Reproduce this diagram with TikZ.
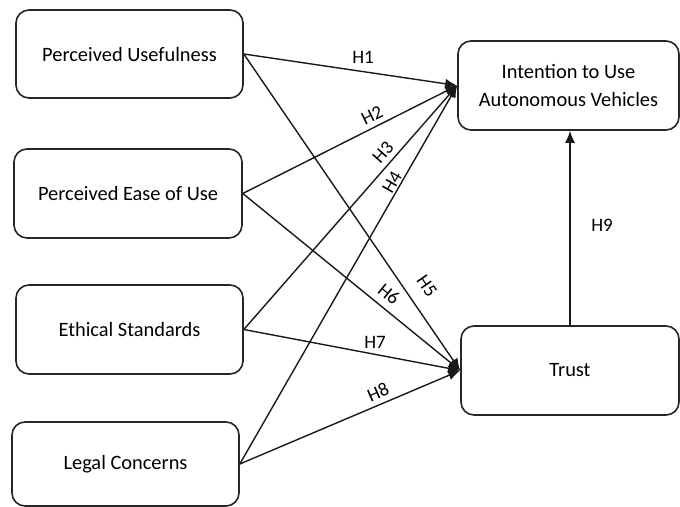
\documentclass[tikz,border=0pt]{standalone}
\usepackage{fontspec}
\setmainfont{Carlito}
\usetikzlibrary{arrows.meta}
\begin{document}
\begin{tikzpicture}[x=1bp,y=-1bp,
  box/.style={draw=black!85, line width=1.6bp, rounded corners=13bp, inner sep=0pt,
    align=center, font=\fontsize{20.4bp}{28bp}\selectfont},
  arr/.style={line width=1.4bp, draw=black!90, -{Latex[length=12bp,width=10bp]}},
  lab/.style={inner sep=0pt, font=\fontsize{19bp}{22bp}\selectfont}]
\useasboundingbox (0,0) rectangle (680,507);
% left boxes
\node[box, minimum width=227bp, minimum height=88bp] (pu) at (129.5,54) {Perceived Usefulness};
\node[box, minimum width=228bp, minimum height=89bp] (peou) at (128,193.5) {Perceived Ease of Use};
\node[box, minimum width=227bp, minimum height=89bp] (es) at (129.5,329.5) {Ethical Standards};
\node[box, minimum width=227bp, minimum height=84bp] (lc) at (125.5,464) {Legal Concerns};
% right boxes
\node[box, minimum width=221bp, minimum height=89bp] (itu) at (568.5,85.5) {Intention to Use\\Autonomous Vehicles};
\node[box, minimum width=218bp, minimum height=89bp] (trust) at (570,370.5) {Trust};
% arrows to intention
\draw[arr] (pu.east) -- (itu.west);
\draw[arr] (peou.east) -- (itu.west);
\draw[arr] (es.east) -- (itu.west);
\draw[arr] (lc.east) -- (itu.west);
% arrows to trust
\draw[arr] (pu.east) -- (trust.west);
\draw[arr] (peou.east) -- (trust.west);
\draw[arr] (es.east) -- (trust.west);
\draw[arr] (lc.east) -- (trust.west);
% trust to intention
\draw[arr] (trust.north) -- (trust.north |- itu.south);
% labels
\node[lab] (h1) at (363,57) {H1};
\node[lab, rotate=26] (h2) at (372,115) {H2};
\node[lab, rotate=48.5] (h3) at (383,152) {H3};
\node[lab, rotate=60] (h4) at (392,182) {H4};
\node[lab, rotate=-55.7] (h5) at (427,286) {H5};
\node[lab, rotate=-39] (h6) at (389,294) {H6};
\node[lab] (h7) at (375,342) {H7};
\node[lab, rotate=24] (h8) at (378,392) {H8};
\node[lab] (h9) at (602,225) {H9};
\end{tikzpicture}
\end{document}
